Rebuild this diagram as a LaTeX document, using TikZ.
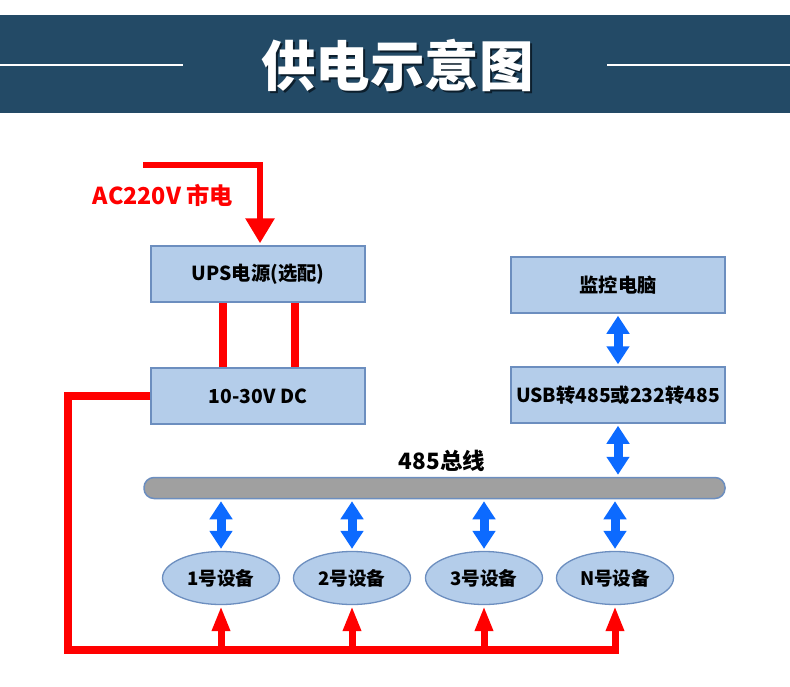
\documentclass[tikz,border=0pt]{standalone}
\usepackage{fontspec}
\newfontfamily\cjk{Noto Sans CJK SC}
\usetikzlibrary{arrows.meta,shapes.geometric}
\definecolor{hdr}{RGB}{35,74,102}
\definecolor{hdrshadow}{RGB}{12,30,44}
\definecolor{boxfill}{RGB}{180,205,234}
\definecolor{boxline}{RGB}{108,142,191}
\definecolor{busfill}{RGB}{160,160,160}
\definecolor{pwrred}{RGB}{255,0,0}
\definecolor{arrblue}{RGB}{12,106,255}
\begin{document}
\begin{tikzpicture}[x=1pt,y=-1pt,
  box/.style={draw=boxline, fill=boxfill, line width=1.5pt, minimum width=214pt, minimum height=56pt, inner sep=0pt, font=\cjk\bfseries\fontsize{19.3}{22}\selectfont},
  dev/.style={ellipse, draw=boxline, fill=boxfill, line width=1.3pt, minimum width=117pt, minimum height=53pt, inner sep=0pt, font=\cjk\bfseries\fontsize{18.6}{22}\selectfont},
  pwr/.style={draw=pwrred, line width=8pt, line join=miter},
  pwrup/.style={draw=pwrred, line width=7pt, -{Triangle[width=17pt,length=25pt]}},
  blu/.style={draw=arrblue, line width=9pt, {Triangle[width=22pt,length=18pt]}-{Triangle[width=22pt,length=18pt]}, shorten <=2pt, shorten >=2pt},
  title/.style={font=\cjk\bfseries\fontsize{54.5}{60}\selectfont, inner sep=0pt}
]
\useasboundingbox (0,0) rectangle (790,686);
\fill[white] (0,0) rectangle (790,686);
% header
\fill[hdr] (0,15) rectangle (790,113);
\draw[white, line width=1.2pt] (0,65) -- (183,65);
\draw[white, line width=1.2pt] (607,65) -- (790,65);
\node[title, text=hdrshadow] (tsh) at (399.5,67.5) {供电示意图};
\node[title, text=white] (ttl) at (397.5,65) {供电示意图};

% boxes
\node[box] (ups) at (258,274) {UPS电源(选配)};
\node[box] (dc) at (258,396) {10-30V DC};
\node[box] (pc) at (618,285) {监控电脑};
\node[box] (usb) at (618,395) {USB转485或232转485};

% bus
\node[draw=boxline, fill=busfill, line width=1.5pt, rounded corners=10pt, minimum width=581pt, minimum height=21pt, inner sep=0pt] (bus) at (434.5,488) {};
\node[font=\cjk\bfseries\fontsize{22.5}{26}\selectfont, inner sep=0pt] (buslbl) at (442,461) {485总线};

% devices
\node[dev] (d1) at (221,578) {1号设备};
\node[dev] (d2) at (352,578) {2号设备};
\node[dev] (d3) at (484,578) {3号设备};
\node[dev] (d4) at (615,578) {N号设备};

% AC input
\coordinate (acs) at (143,165);
\node[text=pwrred, font=\cjk\bfseries\fontsize{23.3}{27}\selectfont, inner sep=0pt] (aclbl) at (163,195) {AC220V 市电};
\draw[draw=pwrred, line width=6pt, line join=miter, -{Triangle[width=28pt,length=25pt]}, shorten >=2pt] (acs) -| ([xshift=2pt]ups.north);

% UPS to DC
\draw[pwr] ([xshift=-35pt]ups.south) -- ([xshift=-35pt]dc.north);
\draw[pwr] ([xshift=37pt]ups.south) -- ([xshift=37pt]dc.north);

% DC loop
\coordinate (bl) at (68,650);
\coordinate (br) at (619,650);
\draw[pwr] (dc.west) -| (bl) -- (br);
\foreach \d in {d1,d2,d3,d4}{
  \draw[pwrup] ([yshift=4pt]\d |- bl) -- ([yshift=-1pt]\d.south);
}

% data arrows
\draw[blu] (pc.south) -- (usb.north);
\draw[blu] (usb.south) -- (usb |- bus.north);
\foreach \d in {d1,d2,d3,d4}{
  \draw[blu] (\d |- bus.south) -- (\d.north);
}
\end{tikzpicture}
\end{document}
